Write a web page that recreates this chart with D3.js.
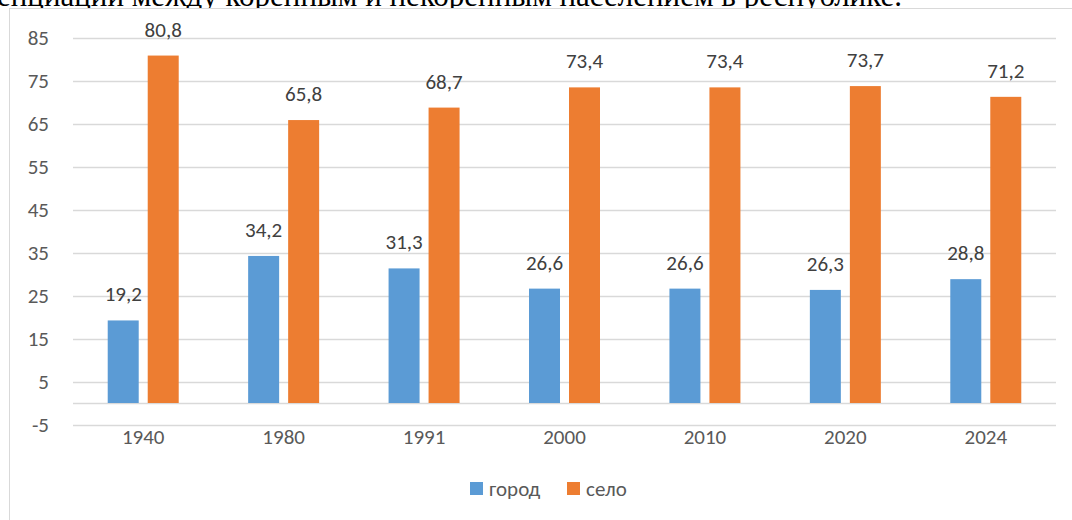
<!DOCTYPE html>
<html>
<head>
<meta charset="utf-8">
<script src="https://cdn.jsdelivr.net/npm/d3@7"></script>
<style>
  body { margin: 0; background: #fff; overflow: hidden; }
  svg { display: block; }
</style>
</head>
<body>
<div id="chart"></div>
<script>
const years = ["1940", "1980", "1991", "2000", "2010", "2020", "2024"]
const city = [19.2, 34.2, 31.3, 26.6, 26.6, 26.3, 28.8]
const village = [80.8, 65.8, 68.7, 73.4, 73.4, 73.7, 71.2]
const seriesNames = ["город", "село"]
const colors = ["#5b9bd5", "#ed7d31"]
const yTicks = [-5, 5, 15, 25, 35, 45, 55, 65, 75, 85]

const width = 1072, height = 520
const svg = d3.select("#chart").append("svg")
  .attr("width", width)
  .attr("height", height)

// cut-off line of document text above the chart
svg.append("text")
  .attr("x", 902).attr("y", 5.5)
  .attr("text-anchor", "end")
  .style("font-family", "Liberation Serif, Times New Roman, serif")
  .style("font-size", "31px")
  .attr("fill", "#000")
  .text("дифференциации между коренным и некоренным населением в республике.")

// chart frame
svg.append("rect")
  .attr("x", 9.5).attr("y", 8.5)
  .attr("width", 1100).attr("height", 600)
  .attr("fill", "#fff")
  .attr("stroke", "#d9d9d9")

const x0 = d3.scaleBand().domain(years).range([73, 1056])
const x1 = d3.scaleBand().domain(seriesNames).range([-35.5, 35.5]).paddingInner(0.225)
const y = d3.scaleLinear().domain([-5, 85]).range([424.5, 37.5])

const font = "Carlito, Lato, 'Open Sans', sans-serif"

svg.append("g").selectAll("line")
  .data(yTicks.concat([0]))
  .enter().append("line")
    .attr("x1", 73).attr("x2", 1056)
    .attr("y1", d => Math.round(y(d)) + 0.5)
    .attr("y2", d => Math.round(y(d)) + 0.5)
    .attr("stroke", "#d9d9d9")
    .attr("stroke-width", 1.5)

svg.append("g").selectAll("text")
  .data(yTicks)
  .enter().append("text")
    .attr("x", 49)
    .attr("y", d => y(d))
    .attr("dy", "0.36em")
    .attr("text-anchor", "end")
    .style("font-family", font)
    .style("font-size", "21px")
    .attr("fill", "#595959")
    .text(d => d)

svg.append("g").selectAll("text")
  .data(years)
  .enter().append("text")
    .attr("x", d => x0(d) + x0.bandwidth() / 2)
    .attr("y", 444)
    .attr("text-anchor", "middle")
    .style("font-family", font)
    .style("font-size", "21px")
    .attr("fill", "#595959")
    .text(d => d)

const rows = years.map((yr, i) => ({year: yr, values: [city[i], village[i]]}))

const groups = svg.append("g").selectAll("g")
  .data(rows)
  .enter().append("g")
    .attr("transform", d => `translate(${x0(d.year) + x0.bandwidth() / 2},0)`)

groups.selectAll("rect")
  .data(d => d.values.map((v, k) => ({name: seriesNames[k], k: k, v: v})))
  .enter().append("rect")
    .attr("x", d => x1(d.name))
    .attr("width", x1.bandwidth())
    .attr("y", d => y(d.v))
    .attr("height", d => y(0) - y(d.v))
    .attr("fill", d => colors[d.k])

groups.selectAll("text")
  .data(d => d.values.map((v, k) => ({name: seriesNames[k], k: k, v: v})))
  .enter().append("text")
    .attr("x", d => x1(d.name) + x1.bandwidth() / 2)
    .attr("y", d => y(d.v) - 19)
    .attr("text-anchor", "middle")
    .style("font-family", font)
    .style("font-size", "21px")
    .attr("fill", "#404040")
    .text(d => d3.format(".1f")(d.v).replace(".", ","))

// legend
const legend = svg.append("g")
const legX = [470, 567]
seriesNames.forEach((n, k) => {
  legend.append("rect")
    .attr("x", legX[k]).attr("y", 482)
    .attr("width", 13).attr("height", 13)
    .attr("fill", colors[k])
  legend.append("text")
    .attr("x", legX[k] + 19).attr("y", 496)
    .style("font-family", font)
    .style("font-size", "21px")
    .attr("fill", "#595959")
    .text(n)
})
</script>
</body>
</html>
